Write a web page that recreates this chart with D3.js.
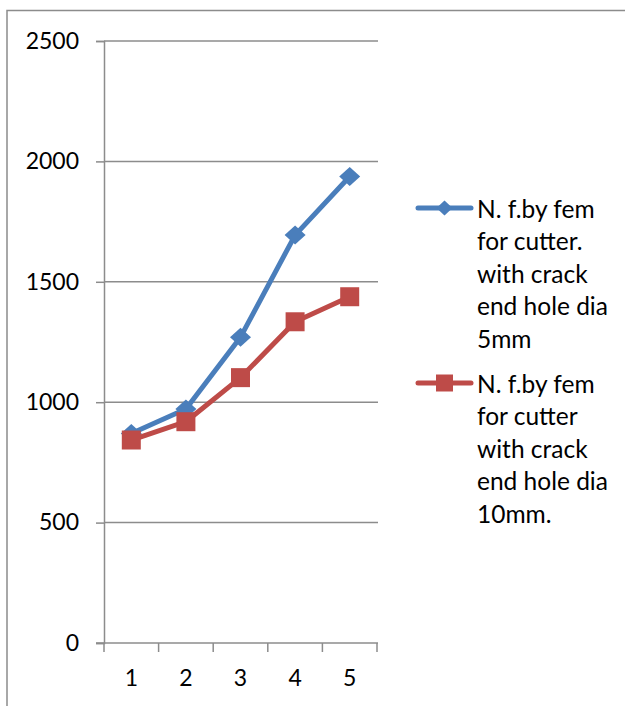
<!DOCTYPE html>
<html>
<head>
<meta charset="utf-8">
<script src="https://cdn.jsdelivr.net/npm/d3@7"></script>
<style>
  html, body { margin: 0; padding: 0; background: #fff; }
  svg { display: block; font-family: Lato, "Open Sans", sans-serif; }
</style>
</head>
<body>
<svg id="chart" width="625" height="706"></svg>
<script>
// Natural frequency by FEM for the cutter, two crack-end hole diameters
const categories = ["1", "2", "3", "4", "5"];
const hole5mm = [870, 972, 1270, 1694, 1937];
const hole10mm = [843, 919, 1102, 1334, 1438];
const yTicks = [0, 500, 1000, 1500, 2000, 2500];
const seriesNames = [
  ["N. f.by fem", "for cutter.", "with crack", "end hole dia", "5mm"],
  ["N. f.by fem", "for cutter", "with crack", "end hole dia", "10mm."]
];

const blue = "#4a7ebb";
const red = "#be4b48";
const gray = "#8c8c8c";

const svg = d3.select("#chart");

// outer chart frame (continues past the right and bottom edges)
svg.append("rect")
  .attr("x", 7).attr("y", 10.5)
  .attr("width", 700).attr("height", 800)
  .attr("fill", "none").attr("stroke", gray).attr("stroke-width", 1.5);

const x = d3.scaleBand().domain(categories).range([104, 377]).padding(0);
const y = d3.scaleLinear().domain([0, 2500]).range([643, 41]);

// horizontal gridlines
svg.append("g").selectAll("line")
  .data(yTicks.filter(v => v > 0))
  .join("line")
  .attr("x1", 104).attr("x2", 378)
  .attr("y1", d => y(d)).attr("y2", d => y(d))
  .attr("stroke", gray).attr("stroke-width", 1.5);

// y axis
const yAxis = svg.append("g")
  .attr("transform", "translate(104,0)")
  .call(d3.axisLeft(y).tickValues(yTicks).tickSize(8).tickPadding(17).tickFormat(d3.format("d")));
yAxis.select(".domain").attr("stroke", gray).attr("stroke-width", 1.5);
yAxis.selectAll(".tick line").attr("stroke", gray).attr("stroke-width", 1.5);
yAxis.selectAll(".tick text")
  .attr("font-size", 23).attr("font-family", "Lato, sans-serif").attr("fill", "#000");

// x axis: labels centred in each band, tick marks on band boundaries
const xAxis = svg.append("g")
  .attr("transform", "translate(0,643)")
  .call(d3.axisBottom(x).tickSize(0).tickPadding(27).tickSizeOuter(0));
xAxis.select(".domain").remove();
xAxis.selectAll(".tick text")
  .attr("font-size", 23).attr("font-family", "Lato, sans-serif").attr("fill", "#000");

svg.append("line")
  .attr("x1", 96).attr("x2", 378)
  .attr("y1", y(0)).attr("y2", y(0))
  .attr("stroke", gray).attr("stroke-width", 1.5);

const boundaries = categories.map(c => x(c)).concat([x(categories[categories.length - 1]) + x.bandwidth()]);
svg.append("g").selectAll("line")
  .data(boundaries)
  .join("line")
  .attr("x1", d => d).attr("x2", d => d)
  .attr("y1", y(0)).attr("y2", y(0) + 9)
  .attr("stroke", gray).attr("stroke-width", 1.5);

const cx = c => x(c) + x.bandwidth() / 2;
const line = d3.line().x(d => cx(d.c)).y(d => y(d.v));

const s1 = categories.map((c, i) => ({ c, v: hole5mm[i] }));
const s2 = categories.map((c, i) => ({ c, v: hole10mm[i] }));

// marker shapes centred on the origin
const diamondPath = (hw, hh) => `M0,${-hh}L${hw},0L0,${hh}L${-hw},0Z`;
const squarePath = s => `M${-s / 2},${-s / 2}h${s}v${s}h${-s}Z`;

// series 1: 5 mm hole (blue diamonds)
svg.append("path").datum(s1)
  .attr("d", line).attr("fill", "none")
  .attr("stroke", blue).attr("stroke-width", 5).attr("stroke-linejoin", "round");
svg.append("g").selectAll("path")
  .data(s1).join("path")
  .attr("transform", d => `translate(${cx(d.c)},${y(d.v)})`)
  .attr("d", diamondPath(10.5, 9.5))
  .attr("fill", blue);

// series 2: 10 mm hole (red squares)
svg.append("path").datum(s2)
  .attr("d", line).attr("fill", "none")
  .attr("stroke", red).attr("stroke-width", 5).attr("stroke-linejoin", "round");
svg.append("g").selectAll("path")
  .data(s2).join("path")
  .attr("transform", d => `translate(${cx(d.c)},${y(d.v)})`)
  .attr("d", squarePath(19))
  .attr("fill", red);

// legend
const legendItems = [
  { color: blue, d: diamondPath(8, 7.5), y0: 208, lines: seriesNames[0] },
  { color: red, d: squarePath(17), y0: 383, lines: seriesNames[1] }
];
const lg = svg.append("g");
legendItems.forEach(item => {
  lg.append("line")
    .attr("x1", 418).attr("x2", 471)
    .attr("y1", item.y0).attr("y2", item.y0)
    .attr("stroke", item.color).attr("stroke-width", 5).attr("stroke-linecap", "round");
  lg.append("path")
    .attr("transform", `translate(444.5,${item.y0})`)
    .attr("d", item.d)
    .attr("fill", item.color);
  const t = lg.append("text")
    .attr("x", 477)
    .attr("font-size", 24.5).attr("font-family", "Lato, sans-serif").attr("fill", "#000");
  item.lines.forEach((s, i) => {
    t.append("tspan")
      .attr("x", 477)
      .attr("y", item.y0 + i * 32.5)
      .attr("dominant-baseline", "central")
      .text(s);
  });
});
</script>
</body>
</html>
